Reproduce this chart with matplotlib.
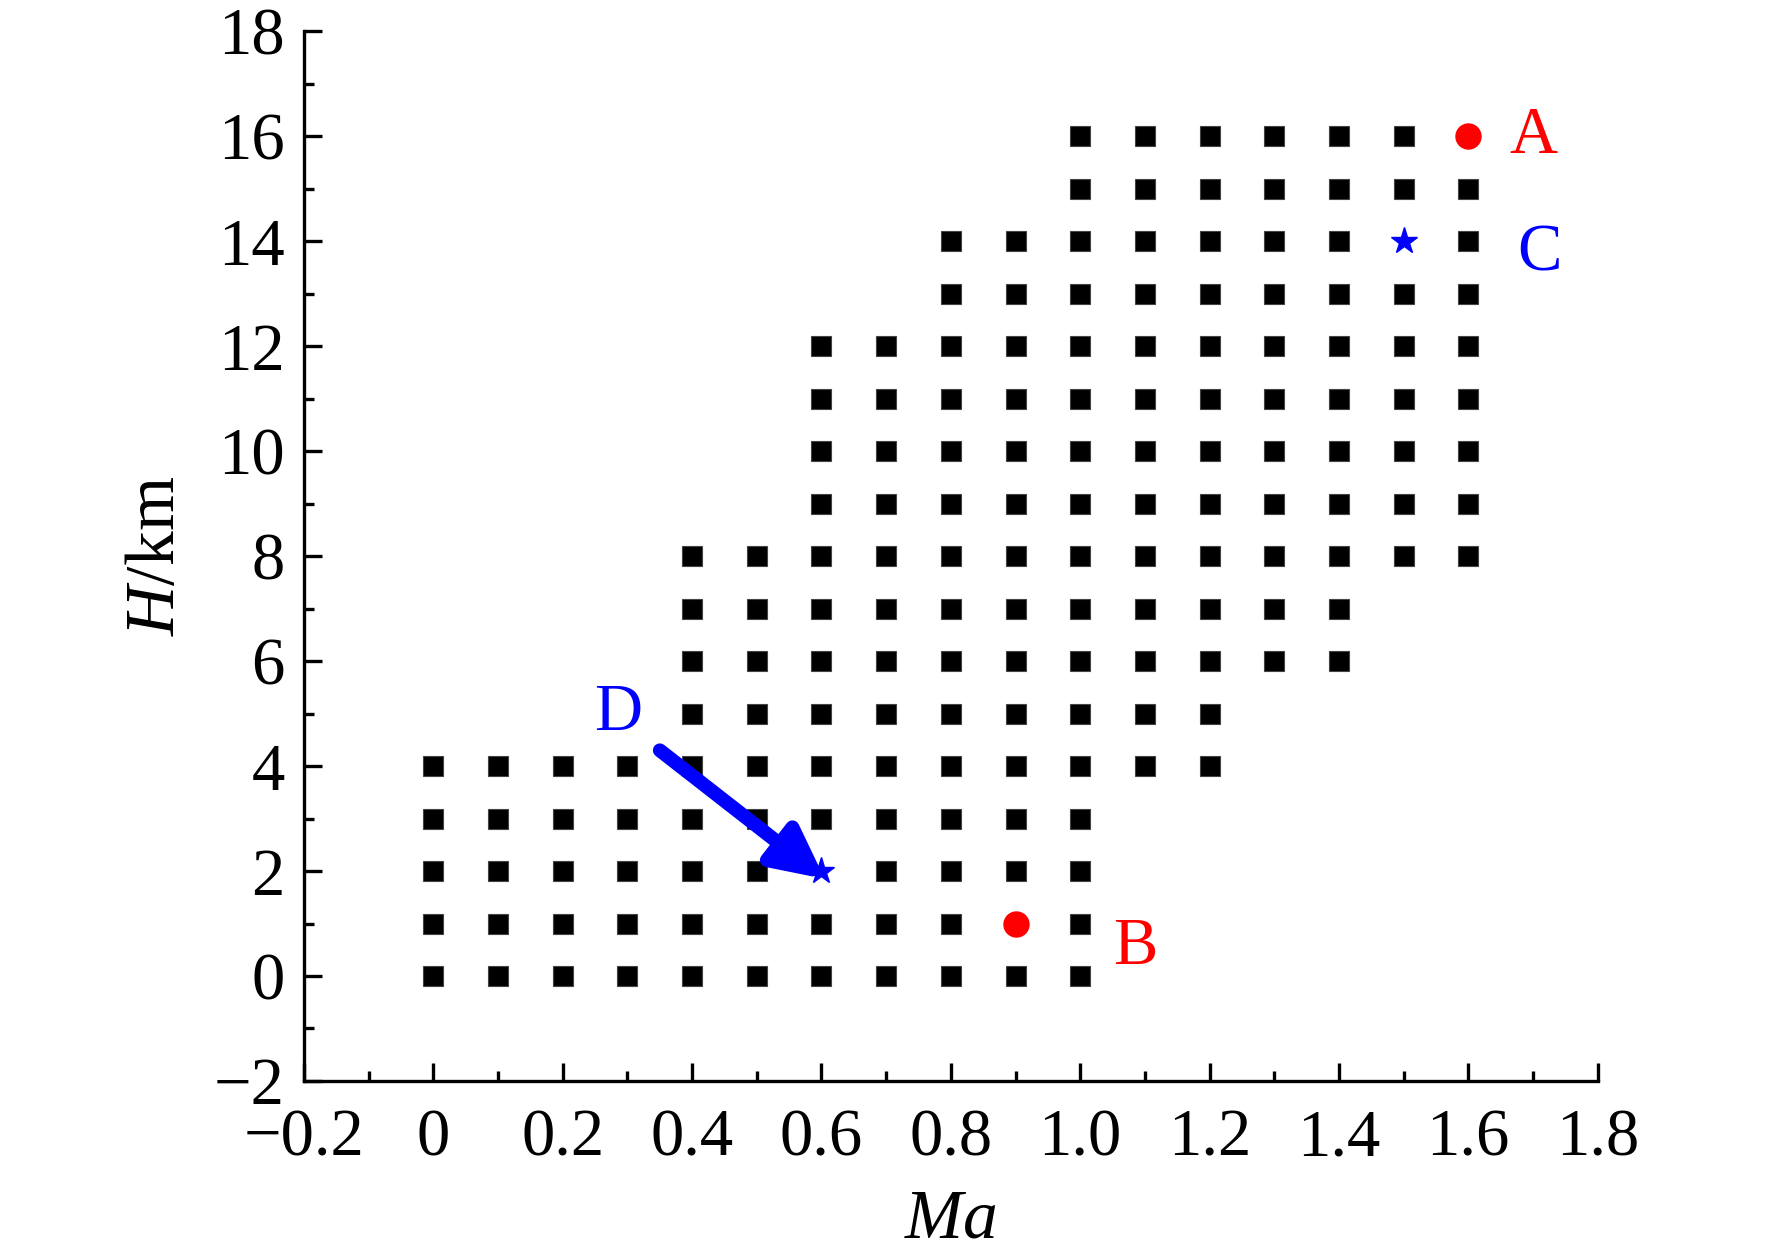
import matplotlib
matplotlib.use("Agg")
import matplotlib.pyplot as plt
from matplotlib.ticker import FixedLocator, MultipleLocator

plt.rcParams["font.family"] = "Liberation Serif"
plt.rcParams["mathtext.fontset"] = "custom"
plt.rcParams["mathtext.rm"] = "Liberation Serif"
plt.rcParams["mathtext.it"] = "Liberation Serif:italic"

# flight envelope grid points, one list of Ma values per altitude (km)
grid_rows = {
    0: [0.0, 0.1, 0.2, 0.3, 0.4, 0.5, 0.6, 0.7, 0.8, 0.9, 1.0],
    1: [0.0, 0.1, 0.2, 0.3, 0.4, 0.5, 0.6, 0.7, 0.8, 1.0],
    2: [0.0, 0.1, 0.2, 0.3, 0.4, 0.5, 0.7, 0.8, 0.9, 1.0],
    3: [0.0, 0.1, 0.2, 0.3, 0.4, 0.5, 0.6, 0.7, 0.8, 0.9, 1.0],
    4: [0.0, 0.1, 0.2, 0.3, 0.4, 0.5, 0.6, 0.7, 0.8, 0.9, 1.0, 1.1, 1.2],
    5: [0.4, 0.5, 0.6, 0.7, 0.8, 0.9, 1.0, 1.1, 1.2],
    6: [0.4, 0.5, 0.6, 0.7, 0.8, 0.9, 1.0, 1.1, 1.2, 1.3, 1.4],
    7: [0.4, 0.5, 0.6, 0.7, 0.8, 0.9, 1.0, 1.1, 1.2, 1.3, 1.4],
    8: [0.4, 0.5, 0.6, 0.7, 0.8, 0.9, 1.0, 1.1, 1.2, 1.3, 1.4, 1.5, 1.6],
    9: [0.6, 0.7, 0.8, 0.9, 1.0, 1.1, 1.2, 1.3, 1.4, 1.5, 1.6],
    10: [0.6, 0.7, 0.8, 0.9, 1.0, 1.1, 1.2, 1.3, 1.4, 1.5, 1.6],
    11: [0.6, 0.7, 0.8, 0.9, 1.0, 1.1, 1.2, 1.3, 1.4, 1.5, 1.6],
    12: [0.6, 0.7, 0.8, 0.9, 1.0, 1.1, 1.2, 1.3, 1.4, 1.5, 1.6],
    13: [0.8, 0.9, 1.0, 1.1, 1.2, 1.3, 1.4, 1.5, 1.6],
    14: [0.8, 0.9, 1.0, 1.1, 1.2, 1.3, 1.4, 1.6],
    15: [1.0, 1.1, 1.2, 1.3, 1.4, 1.5, 1.6],
    16: [1.0, 1.1, 1.2, 1.3, 1.4, 1.5],
}

# highlighted points
red_ma = [1.6, 0.9]
red_h = [16, 1]
star_ma = [1.5, 0.6]
star_h = [14, 2]

# arrow D: start -> end
arrow_start = (0.35, 4.3)
arrow_end = (0.605, 1.85)

point_labels = ["A", "B", "C", "D"]
label_ma = [1.70, 1.085, 1.71, 0.285]
label_h = [16.0, 0.55, 13.75, 5.0]
label_colors = ["red", "red", "blue", "blue"]

x_ticks = [-0.2, 0.0, 0.2, 0.4, 0.6, 0.8, 1.0, 1.2, 1.4, 1.6, 1.8]
x_tick_labels = ["\u22120.2", "0", "0.2", "0.4", "0.6", "0.8", "1.0", "1.2", "1.4", "1.6", "1.8"]
y_ticks = [-2, 0, 2, 4, 6, 8, 10, 12, 14, 16, 18]
y_tick_labels = ["\u22122", "0", "2", "4", "6", "8", "10", "12", "14", "16", "18"]

fig = plt.figure(figsize=(17.72, 12.54), dpi=100)
ax = fig.add_axes([0.1716, 0.138, 0.73, 0.837])

sq_x, sq_y = [], []
for h, row in grid_rows.items():
    sq_x += row
    sq_y += [h] * len(row)
ax.plot(sq_x, sq_y, "s", color="black", markersize=15, markeredgewidth=0.8,
        markeredgecolor="#444444", linestyle="none", zorder=2)

ax.plot(red_ma, red_h, "o", color="red", markersize=18, linestyle="none", zorder=3)

ax.annotate("", xy=arrow_end, xytext=arrow_start,
            arrowprops=dict(arrowstyle="-|>,head_length=1.5,head_width=0.75",
                            mutation_scale=20, color="blue", lw=10,
                            shrinkA=0, shrinkB=0),
            zorder=4)
ax.plot(star_ma, star_h, "*", color="blue", markersize=20, linestyle="none", zorder=5)

for txt, x, y, c in zip(point_labels, label_ma, label_h, label_colors):
    ax.text(x, y, txt, color=c, fontsize=48, ha="center", va="center")

ax.set_xlim(-0.2, 1.8)
ax.set_ylim(-2, 18)
ax.xaxis.set_major_locator(FixedLocator(x_ticks))
ax.set_xticklabels(x_tick_labels)
ax.yaxis.set_major_locator(FixedLocator(y_ticks))
ax.set_yticklabels(y_tick_labels)
ax.xaxis.set_minor_locator(MultipleLocator(0.1))
ax.yaxis.set_minor_locator(MultipleLocator(1))

for side in ["top", "right"]:
    ax.spines[side].set_visible(False)
for side in ["left", "bottom"]:
    ax.spines[side].set_linewidth(2.4)

ax.tick_params(which="major", direction="in", length=13, width=2.4, labelsize=48)
ax.tick_params(axis="x", which="major", pad=20)
ax.tick_params(axis="y", which="major", pad=14)
ax.tick_params(which="minor", direction="in", length=7, width=2.4)

ax.set_xlabel("$Ma$", fontsize=50, labelpad=14)
ax.set_ylabel("$H$/km", fontsize=50, labelpad=18)

fig.savefig("out.png", dpi=100)
